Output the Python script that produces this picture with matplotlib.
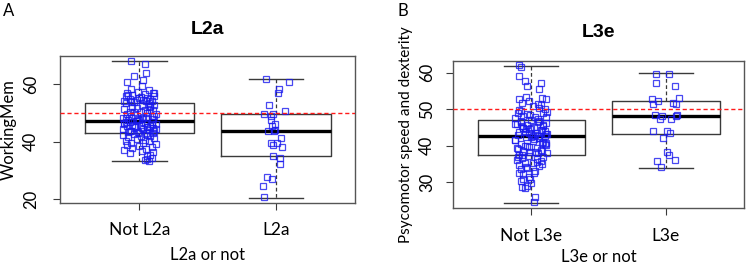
import numpy as np
import matplotlib.pyplot as plt

plt.rcParams["font.family"] = ["Lato", "DejaVu Sans"]

# ---- data ----
groups_a = ["Not L2a", "L2a"]
groups_b = ["Not L3e", "L3e"]
ref_line = 50

# box stats: lower whisker, Q1, median, Q3, upper whisker
a_lo, a_q1, a_med, a_q3, a_hi = [33.2, 20.6], [43.0, 35.2], [47.3, 43.9], [53.6, 49.7], [67.9, 61.7]
b_lo, b_q1, b_med, b_q3, b_hi = [24.4, 34.0], [37.4, 43.2], [42.7, 48.1], [47.0, 52.3], [61.7, 59.8]

# individual scores
not_l2a = [67.9, 67.0, 63.8, 62.9, 61.5, 60.8, 59.4, 58.3, 58.1, 57.4, 57.1, 56.9, 56.5, 56.4,
           56.0, 55.8, 55.7, 55.3, 55.0, 54.9, 54.5, 54.4, 54.1, 54.0, 53.8, 57.0, 56.2, 55.1,
           54.2, 53.7,
           53.4, 53.3, 52.8, 52.7, 52.2, 52.1, 51.6, 51.5, 51.0, 50.9, 50.5, 50.4, 50.0, 49.8,
           49.7, 49.3, 49.1, 48.8, 48.7, 48.3, 48.2, 47.9, 47.8, 47.5, 47.4, 51.1, 50.2, 49.0,
           48.4, 47.9, 52.3,
           47.2, 47.0, 46.7, 46.6, 46.3, 46.2, 45.9, 45.8, 45.5, 45.4, 45.1, 45.0, 44.7, 44.6,
           44.3, 44.2, 43.9, 43.8, 43.5, 43.4, 43.2, 43.1, 46.9, 46.0, 45.6, 44.9, 44.4, 43.7,
           45.2, 46.5,
           42.9, 42.6, 42.4, 42.3, 42.0, 41.9, 41.5, 41.3, 40.9, 40.7, 40.3, 40.1, 39.7, 39.5,
           39.1, 38.9, 38.5, 38.3, 37.9, 37.6, 37.1, 36.8, 36.3, 36.0, 35.5, 35.0, 34.4, 34.0,
           33.5, 33.3]
not_l2a_jit = [-0.06, 0.04, 0.05, -0.04, 0.03, -0.09, 0.02, -0.06, 0.07, -0.01, 0.10, -0.09,
               0.04, -0.05, 0.11, -0.10, 0.01, 0.06, -0.07, 0.08, -0.02, 0.03, -0.11, 0.09,
               -0.04, 0.11, -0.08, 0.00, 0.05, -0.06,
               0.07, -0.10, 0.02, 0.11, -0.05, 0.08, -0.02, -0.11, 0.04, 0.10, -0.07, 0.01,
               0.06, -0.09, 0.12, -0.03, 0.09, -0.06, 0.03, -0.12, 0.05, -0.01, 0.10, -0.08,
               0.00, 0.07, -0.04, 0.11, -0.10, 0.02, 0.08,
               -0.02, 0.09, -0.07, 0.04, -0.11, 0.12, -0.05, 0.01, 0.08, -0.09, 0.06, -0.03,
               0.10, -0.12, 0.03, 0.07, -0.06, 0.11, -0.01, -0.08, 0.05, 0.00, -0.10, 0.09,
               -0.04, 0.02, 0.12, -0.07, 0.06, -0.11,
               0.10, -0.04, 0.06, -0.12, 0.01, 0.08, -0.08, 0.11, -0.02, 0.04, -0.10, 0.07,
               -0.06, 0.03, 0.12, -0.09, 0.00, 0.09, -0.05, 0.05, -0.11, 0.02, 0.10, -0.07,
               0.08, 0.06, 0.09, 0.06, 0.04, 0.07]

l2a = [61.7, 60.7, 58.4, 56.9, 52.9, 50.6, 49.8, 49.7, 49.0, 47.4, 46.2, 45.5, 43.8, 43.8,
       44.1, 41.2, 39.7, 39.7, 38.3, 39.0, 35.2, 34.3, 32.2, 27.9, 27.1, 24.7, 20.9]
l2a_jit = [-0.075, 0.097, 0.020, 0.015, -0.050, 0.064, -0.088, -0.020, -0.034, -0.039, -0.005,
           -0.031, -0.056, -0.015, -0.007, 0.039, -0.034, 0.005, 0.046, -0.020, -0.020, 0.029,
           0.029, -0.068, -0.029, -0.093, -0.090]

not_l3e = [62.0, 61.5, 59.1, 57.6, 57.2, 56.3, 55.4, 53.1, 52.7, 52.3, 51.5, 52.9, 51.8, 50.9,
           50.4, 49.8, 49.3, 48.7, 48.9, 48.2, 47.8, 47.5, 47.3, 48.4, 50.1, 49.6, 47.1, 51.2,
           53.4, 48.0, 49.1,
           46.9, 46.5, 46.2, 45.8, 45.5, 45.9, 45.1, 44.8, 44.4, 44.7, 44.1, 43.8, 43.5, 43.9,
           43.2, 43.0, 42.8, 46.7, 45.3, 44.2, 43.6, 42.9, 46.0, 45.7, 44.5, 43.3, 46.4, 44.9,
           42.75, 45.0,
           42.6, 42.3, 42.0, 41.7, 41.3, 40.9, 40.6, 40.2, 39.8, 39.5, 39.1, 38.8, 38.5, 38.2,
           37.9, 37.6, 42.4, 41.1, 40.0, 38.0, 39.3, 41.9, 40.4, 37.5, 38.6, 39.9, 41.5, 42.1,
           38.3, 40.7,
           37.3, 37.0, 36.7, 36.4, 36.1, 35.8, 35.4, 35.2, 34.9, 34.7, 34.4, 34.0, 33.6, 33.1,
           32.6, 32.6, 32.2, 31.5, 31.0, 30.4, 29.9, 29.0, 28.4, 28.6, 26.1, 24.7, 36.9, 35.6,
           34.2, 30.8]
not_l3e_jit = [-0.09, -0.08, -0.09, -0.05, 0.07, -0.03, 0.06, 0.08, -0.09, -0.02, 0.05, 0.11,
               -0.07, 0.01, 0.06, -0.09, 0.12, -0.03, 0.09, -0.06, 0.03, -0.12, 0.05, -0.01,
               0.10, -0.08, 0.00, 0.07, -0.04, 0.11, -0.10,
               -0.08, 0.05, 0.11, -0.03, 0.09, -0.11, 0.02, -0.06, 0.07, -0.01, 0.10, -0.09,
               0.04, -0.05, 0.12, -0.10, 0.01, 0.06, -0.07, 0.08, -0.02, 0.03, -0.12, 0.09,
               -0.04, 0.11, -0.08, 0.00, 0.05, -0.06,
               0.10, -0.04, 0.06, -0.12, 0.01, 0.08, -0.08, 0.11, -0.02, 0.04, -0.10, 0.07,
               -0.06, 0.03, 0.12, -0.09, 0.00, 0.09, -0.05, 0.05, -0.11, 0.02, 0.10, -0.07,
               0.08, -0.03, -0.12, 0.06, -0.01, 0.11,
               -0.02, 0.09, -0.07, 0.04, -0.11, 0.07, -0.05, 0.01, 0.08, -0.09, 0.06, -0.03,
               -0.08, 0.03, 0.02, -0.09, -0.06, -0.02, -0.01, -0.08, 0.00, -0.03, -0.05, -0.07,
               0.03, 0.02, -0.10, 0.04, -0.04, -0.06]

l3e = [59.7, 59.7, 57.3, 56.3, 52.7, 52.3, 51.4, 53.1, 51.7, 51.5, 48.5, 48.1, 47.2, 47.3,
       48.5, 48.2, 44.1, 44.1, 43.4, 42.1, 38.4, 37.6, 36.1, 35.9, 34.1]
l3e_jit = [-0.073, 0.022, -0.073, 0.066, -0.105, -0.056, -0.097, 0.098, 0.049, 0.078, -0.078,
           -0.026, -0.044, 0.039, 0.083, 0.073, -0.097, 0.005, 0.027, -0.022, 0.010, 0.022,
           0.066, -0.063, -0.039]

a_yticks = [20, 40, 60]
b_yticks = [30, 40, 50, 60]

EDGE = "#3a3a3a"


def draw_panel(ax, lo, q1, med, q3, hi, pts, jits, groups, yticks, ylabel, xlabel, title,
               ytick_pad, ylabel_x, ylabel_size, xlabel_pad, title_pad):
    stats = [dict(whislo=lo[i], q1=q1[i], med=med[i], q3=q3[i], whishi=hi[i], label=groups[i])
             for i in range(len(groups))]
    ax.bxp(stats, positions=[1, 2], widths=0.8, capwidths=0.4, showfliers=False,
           boxprops=dict(color=EDGE, linewidth=1.0),
           medianprops=dict(color="black", linewidth=2.4),
           whiskerprops=dict(color=EDGE, linewidth=0.9, linestyle=(0, (3, 2))),
           capprops=dict(color=EDGE, linewidth=1.0), zorder=1)
    for i, (ys, js) in enumerate(zip(pts, jits)):
        ax.plot(np.array(js) + i + 1, ys, linestyle="none", marker="s", markersize=5,
                markerfacecolor="none", markeredgecolor="#1a1aee", markeredgewidth=0.9,
                alpha=0.8, zorder=3)
    ax.axhline(ref_line, color="#ff1a1a", linestyle=(0, (3, 2)), linewidth=1.0, zorder=4)

    allv = lo + hi
    rng = max(allv) - min(allv)
    ax.set_ylim(min(allv) - 0.04 * rng, max(allv) + 0.04 * rng)
    ax.set_xlim(0.42, 2.58)
    ax.set_yticks(yticks)
    ax.set_yticklabels([str(t) for t in yticks], rotation=90, va="center", fontsize=12)
    ax.set_xticks([1, 2])
    ax.set_xticklabels(groups, fontsize=12.5)
    ax.tick_params(axis="x", length=5, pad=9, color=EDGE)
    ax.tick_params(axis="y", length=5, pad=ytick_pad, color=EDGE)
    for s in ax.spines.values():
        s.set_color("#555555")
        s.set_linewidth(1.0)
    ax.set_ylabel(ylabel, fontsize=ylabel_size)
    ax.yaxis.set_label_coords(ylabel_x, 0.5)
    ax.set_xlabel(xlabel, fontsize=12, labelpad=xlabel_pad)
    ax.set_title(title, fontsize=14, fontweight="bold", family="Liberation Sans", pad=title_pad)


fig = plt.figure(figsize=(7.49, 2.66), dpi=100)
ax_a = fig.add_axes([0.0801, 0.2368, 0.394, 0.5526])
ax_b = fig.add_axes([0.6052, 0.2169, 0.3881, 0.5538])

draw_panel(ax_a, a_lo, a_q1, a_med, a_q3, a_hi, [not_l2a, l2a], [not_l2a_jit, l2a_jit],
           groups_a, a_yticks, "WorkingMem", "L2a or not", "L2a", 10, -0.148, 12, 6, 16)
draw_panel(ax_b, b_lo, b_q1, b_med, b_q3, b_hi, [not_l3e, l3e], [not_l3e_jit, l3e_jit],
           groups_b, b_yticks, "Psycomotor speed and dexterity", "L3e or not", "L3e", 8, -0.14,
           11, 4, 17)

fig.text(0.004, 0.99, "A", fontsize=12, va="top", ha="left")
fig.text(0.531, 0.99, "B", fontsize=12, va="top", ha="left")

fig.savefig("out.png", dpi=100)
